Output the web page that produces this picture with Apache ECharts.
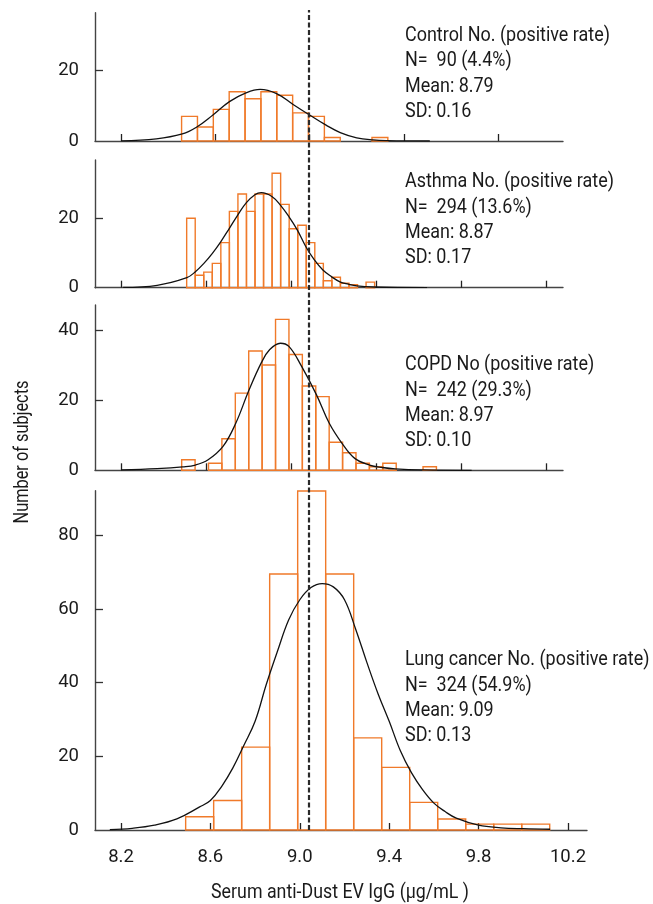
<!DOCTYPE html>
<html><head><meta charset="utf-8">
<script src="https://cdn.jsdelivr.net/npm/echarts@6.0.0/dist/echarts.min.js"></script>
<style>html,body{margin:0;padding:0;background:#fff}#c{width:653px;height:904px}</style>
</head><body><div id="c"></div>
<script>
// ---------- DATA ----------
// Control
const controlBinStart = 8.457, controlBinWidth = 0.0673;
const controlCounts = [7, 4, 9, 14, 12, 14, 13, 8, 7, 1, 0, 0, 1];
const controlCurveX = [8.20, 8.35, 8.46, 8.52, 8.59, 8.66, 8.73, 8.79, 8.86, 8.93, 9.00, 9.07, 9.13, 9.20, 9.27, 9.33, 9.51];
const controlCurveY = [0.05, 0.6, 2.0, 3.9, 7.4, 11.2, 13.7, 14.7, 13.5, 10.4, 7.4, 4.5, 2.4, 0.9, 0.3, 0.12, 0];
// Asthma
const asthmaBinStart = 8.509, asthmaBinWidth = 0.0402;
const asthmaCounts = [20, 3.6, 4.5, 7, 13, 22, 27, 22, 27, 27, 33, 24, 17, 18, 13, 7, 2, 3, 1.3, 0.9, 0, 1.6];
const asthmaCurveX = [8.21, 8.37, 8.51, 8.55, 8.59, 8.63, 8.67, 8.71, 8.75, 8.79, 8.83, 8.86, 8.91, 8.95, 8.99, 9.03, 9.07, 9.11, 9.15, 9.19, 9.23, 9.27, 9.31, 9.39, 9.64];
const asthmaCurveY = [0.1, 0.7, 2.9, 4.6, 7.0, 9.9, 13.3, 17.1, 21.0, 24.5, 26.8, 27.4, 26.3, 23.8, 20.5, 16.6, 11.8, 8.0, 5.1, 3.2, 1.7, 1.0, 0.5, 0.2, 0];
// COPD
const copdBinStart = 8.4855, copdBinWidth = 0.0631;
const copdCounts = [3, 0, 2, 9, 22, 34, 30, 43, 33, 24, 21, 8, 5, 2, 1, 2, 0, 0, 1];
const copdCurveX = [8.20, 8.37, 8.49, 8.55, 8.61, 8.68, 8.74, 8.80, 8.86, 8.90, 8.95, 8.99, 9.05, 9.12, 9.18, 9.24, 9.30, 9.37, 9.43, 9.49, 9.62, 9.85];
const copdCurveY = [0.1, 0.5, 1.0, 1.5, 3.0, 6.8, 13.4, 22.5, 30.6, 34.4, 36.2, 35.3, 29.6, 21.5, 13.4, 7.7, 3.4, 1.5, 0.8, 0.4, 0.1, 0];
// Lung cancer
const lungBinStart = 8.4893, lungBinWidth = 0.1253;
const lungCounts = [3.6, 8, 22.5, 69.5, 92, 69.5, 25, 17, 7.5, 3, 1.6, 1.6, 1.6];
const lungCurveX = [8.15, 8.25, 8.35, 8.45, 8.55, 8.60, 8.65, 8.70, 8.75, 8.80, 8.85, 8.90, 8.95, 9.00, 9.05, 9.10, 9.15, 9.20, 9.25, 9.30, 9.35, 9.40, 9.45, 9.50, 9.55, 9.60, 9.65, 9.70, 9.80, 9.90, 10.00, 10.12];
const lungCurveY = [0.1, 0.45, 1.3, 3.0, 6.2, 8.0, 11.8, 16.8, 23.0, 29.5, 39.5, 48.5, 57.0, 62.5, 65.8, 66.9, 66.0, 62.5, 54.5, 45.5, 37.0, 29.5, 21.5, 15.5, 10.9, 7.3, 5.0, 3.2, 1.3, 0.6, 0.35, 0.2];

const cutoff = 9.04; // on the bottom axis scale
const xTickValues = [8.2, 8.6, 9.0, 9.4, 9.8, 10.2];
const xRanges = [[8.0897, 10.0749], [8.0776, 10.28], [8.0776, 10.28], [8.0837, 10.285]];
const yMaxes = [36.5, 36.8, 47.1, 92.1];
const yTickValues = [[0, 20], [0, 20], [0, 20, 40], [0, 20, 40, 60, 80]];
const xTitle = 'Serum anti-Dust EV IgG (µg/mL )';
const yTitle = 'Number of subjects';
const annotations = [
  ['Control No. (positive rate)', 'N=  90 (4.4%)', 'Mean: 8.79', 'SD: 0.16'],
  ['Asthma No. (positive rate)', 'N=  294 (13.6%)', 'Mean: 8.87', 'SD: 0.17'],
  ['COPD No (positive rate)', 'N=  242 (29.3%)', 'Mean: 8.97', 'SD: 0.10'],
  ['Lung cancer No. (positive rate)', 'N=  324 (54.9%)', 'Mean: 9.09', 'SD: 0.13']
];

// ---------- BUILD ----------
const panels = [
  {start: controlBinStart, w: controlBinWidth, counts: controlCounts, cx: controlCurveX, cy: controlCurveY},
  {start: asthmaBinStart, w: asthmaBinWidth, counts: asthmaCounts, cx: asthmaCurveX, cy: asthmaCurveY},
  {start: copdBinStart, w: copdBinWidth, counts: copdCounts, cx: copdCurveX, cy: copdCurveY},
  {start: lungBinStart, w: lungBinWidth, counts: lungCounts, cx: lungCurveX, cy: lungCurveY}
];
const grids = [
  {left: 95, width: 468, top: 12.7, height: 128.3},
  {left: 95, width: 468, top: 160, height: 127.7},
  {left: 95, width: 468, top: 305, height: 165.3},
  {left: 95, width: 492, top: 490.7, height: 339.3},
  {left: 95, width: 492, top: 10, height: 820}
];
const ORANGE = '#F07A2A';
const AXIS = '#444';
const TEXT = '#1a1a1a';
const FONT = "'Liberation Sans Narrow', 'Roboto', sans-serif";
const xAxes = [], yAxes = [], series = [];
panels.forEach((p, i) => {
  const last = i === 3;
  const ticks = xTickValues.filter(v => v <= xRanges[i][1]);
  xAxes.push({
    type: 'value', gridIndex: i, min: xRanges[i][0], max: xRanges[i][1],
    splitLine: {show: false},
    axisLine: {lineStyle: {color: AXIS, width: 1.4}},
    axisTick: {inside: true, length: 7, lineStyle: {color: '#222', width: 1.3}, customValues: ticks},
    axisLabel: {show: last, customValues: ticks, margin: 18, fontSize: 18.5, color: TEXT, fontFamily: FONT,
      formatter: v => v.toFixed(1)}
  });
  yAxes.push({
    type: 'value', gridIndex: i, min: 0, max: yMaxes[i],
    splitLine: {show: false},
    axisLine: {show: true, lineStyle: {color: AXIS, width: 1.4}},
    axisTick: {show: true, inside: true, length: 8, lineStyle: {color: '#333', width: 1.3}, customValues: yTickValues[i].filter(v => v > 0)},
    axisLabel: {customValues: yTickValues[i], margin: 16, fontSize: 18.5, color: TEXT, fontFamily: FONT}
  });
  const bins = [];
  p.counts.forEach((c, k) => { if (c > 0) bins.push([p.start + k * p.w, p.start + (k + 1) * p.w, c]); });
  series.push({
    type: 'custom', xAxisIndex: i, yAxisIndex: i, z: 2, silent: true,
    data: bins, encode: {x: [0, 1], y: 2},
    renderItem: (params, api) => {
      const a = api.coord([api.value(0), api.value(2)]);
      const b = api.coord([api.value(1), 0]);
      return {type: 'rect', shape: {x: a[0], y: a[1], width: b[0] - a[0], height: b[1] - a[1]},
        style: {fill: 'rgba(255,255,255,0)', stroke: ORANGE, lineWidth: 1.4}};
    }
  });
  series.push({
    type: 'line', xAxisIndex: i, yAxisIndex: i, z: 3, silent: true,
    data: p.cx.map((x, k) => [x, p.cy[k]]), smooth: 0.4, symbol: 'none',
    lineStyle: {color: '#111', width: 1.3}
  });
});
// overlay grid for the cut-off line
xAxes.push({type: 'value', gridIndex: 4, min: xRanges[3][0], max: xRanges[3][1], show: false});
yAxes.push({type: 'value', gridIndex: 4, min: 0, max: 1, show: false});
series.push({
  type: 'line', xAxisIndex: 4, yAxisIndex: 4, data: [], z: 5, silent: true,
  markLine: {symbol: 'none', silent: true, label: {show: false},
    lineStyle: {color: '#2a2a2a', width: 2.2, type: [5, 2.5]},
    data: [{xAxis: cutoff}]}
});

const graphic = [];
const firstLineY = [35.7, 182, 365, 660];
annotations.forEach((lines, i) => {
  lines.forEach((t, k) => {
    graphic.push({type: 'text', x: 405, y: firstLineY[i] + k * 25.3, scaleX: 0.855, silent: true,
      style: {text: t, font: "21px Roboto", fill: TEXT, textVerticalAlign: 'middle', textAlign: 'left'}});
  });
});
graphic.push({type: 'text', x: 23, y: 452, rotation: Math.PI / 2, scaleX: 0.816, silent: true,
  style: {text: yTitle, font: "20px Roboto", fill: TEXT, textAlign: 'center', textVerticalAlign: 'middle'}});
graphic.push({type: 'text', x: 340, y: 893, scaleX: 0.89, silent: true,
  style: {text: xTitle, font: "20px Roboto", fill: TEXT, textAlign: 'center', textVerticalAlign: 'middle'}});

const chart = echarts.init(document.getElementById('c'), null, {renderer: 'canvas'});
chart.setOption({
  animation: false, backgroundColor: '#fff',
  grid: grids, xAxis: xAxes, yAxis: yAxes, series: series, graphic: graphic
});
</script></body></html>
